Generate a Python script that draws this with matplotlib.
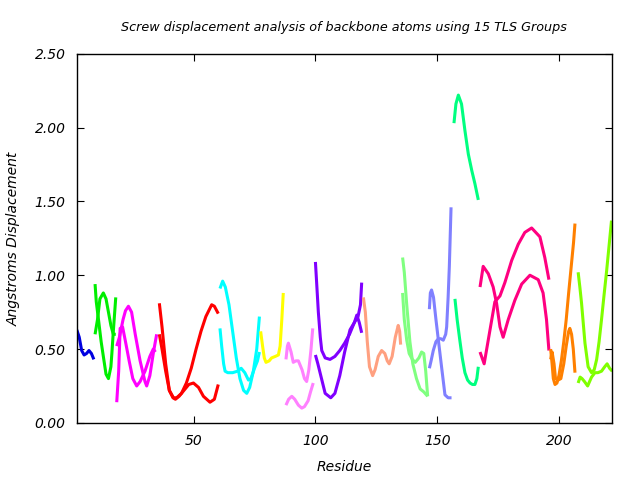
import matplotlib
matplotlib.use("Agg")
import matplotlib.pyplot as plt

# residue / displacement readings, two curves per TLS group where visible
g1_x = [2, 3, 4, 5, 6, 7, 8, 9]
g1_a = [0.63, 0.58, 0.49, 0.46, 0.47, 0.49, 0.47, 0.43]

g2_xa = [9.5, 10, 10.9, 12, 12.9, 14, 15, 16, 16.4, 17, 18]
g2_a = [0.94, 0.82, 0.70, 0.55, 0.45, 0.33, 0.30, 0.38, 0.47, 0.62, 0.85]
g2_xb = [9.5, 10.5, 11.5, 12.9, 14, 15, 16, 17, 18]
g2_b = [0.60, 0.70, 0.84, 0.88, 0.84, 0.75, 0.66, 0.60, 0.60]

g3_xa = [18.4, 19.2, 19.8, 20.8, 22, 23.5, 25, 26.6, 28, 30, 32, 33.4, 34.3]
g3_a = [0.14, 0.35, 0.64, 0.65, 0.55, 0.42, 0.30, 0.25, 0.28, 0.35, 0.45, 0.50, 0.48]
g3_xb = [18.4, 19.5, 21, 22, 23.2, 24.5, 26, 28, 30, 30.7, 32, 33.5, 34.8]
g3_b = [0.52, 0.58, 0.70, 0.76, 0.79, 0.75, 0.60, 0.42, 0.28, 0.25, 0.32, 0.48, 0.60]

g4_xa = [35.9, 37, 38.5, 40, 41.7, 43, 45, 47, 49, 51, 53, 55, 57.4, 58.5, 60.1]
g4_a = [0.81, 0.65, 0.40, 0.22, 0.17, 0.17, 0.20, 0.27, 0.37, 0.50, 0.62, 0.72, 0.80, 0.79, 0.74]
g4_xb = [35.9, 37, 38.5, 40, 41.5, 42.5, 44, 46, 48, 49.9, 52, 54, 56.7, 58.5, 60.1]
g4_b = [0.60, 0.50, 0.35, 0.22, 0.17, 0.16, 0.18, 0.22, 0.26, 0.27, 0.24, 0.18, 0.14, 0.16, 0.26]

g5_xa = [60.8, 61.9, 63, 64.5, 66, 67.5, 69, 70.5, 71.8, 73, 74.5, 75.9, 77]
g5_a = [0.91, 0.96, 0.92, 0.80, 0.62, 0.44, 0.30, 0.22, 0.20, 0.24, 0.35, 0.50, 0.72]
g5_xb = [60.8, 61.5, 62.3, 62.9, 64, 66, 68, 69.5, 71, 72.5, 73.5, 75, 76.2, 77]
g5_b = [0.64, 0.52, 0.40, 0.35, 0.34, 0.34, 0.35, 0.37, 0.34, 0.29, 0.30, 0.37, 0.42, 0.48]

g6_x = [77.5, 78.3, 79, 79.7, 81, 82, 83.5, 84.8, 85.5, 86.2, 86.8]
g6_a = [0.62, 0.52, 0.44, 0.41, 0.42, 0.44, 0.45, 0.46, 0.52, 0.70, 0.88]

g7_xa = [87.9, 88.5, 88.9, 90, 90.9, 92, 93, 94.5, 95.5, 96.4, 97.3, 98.2, 98.9]
g7_a = [0.43, 0.52, 0.54, 0.48, 0.41, 0.42, 0.42, 0.36, 0.30, 0.28, 0.36, 0.50, 0.64]
g7_xb = [87.9, 89, 90.3, 91.5, 93, 94.4, 95.5, 97, 98, 99.1]
g7_b = [0.12, 0.16, 0.18, 0.16, 0.12, 0.10, 0.11, 0.15, 0.21, 0.27]

g8_xa = [100, 100.5, 101.2, 102, 102.6, 104, 106, 108, 110, 112, 114, 116, 117, 118, 119]
g8_a = [1.09, 0.95, 0.75, 0.58, 0.49, 0.44, 0.43, 0.45, 0.49, 0.54, 0.60, 0.68, 0.73, 0.68, 0.61]
g8_xb = [100, 101, 102.5, 104, 106.3, 108, 110, 112, 114.2, 116, 117.5, 118.5, 119]
g8_b = [0.46, 0.40, 0.30, 0.20, 0.17, 0.20, 0.32, 0.48, 0.63, 0.68, 0.72, 0.80, 0.95]

g9_x = [119.7, 120.5, 121.3, 122.2, 123.5, 124.5, 125.8, 127.2, 128.5, 129.5, 130.3,
        131.5, 132.8, 134, 134.6, 135]
g9_a = [0.85, 0.75, 0.55, 0.38, 0.32, 0.36, 0.45, 0.49, 0.47, 0.42, 0.40,
        0.45, 0.58, 0.66, 0.62, 0.53]

g10_xa = [135.8, 136.5, 137.5, 138.8, 140, 141.5, 143, 144.5, 146.1]
g10_a = [1.12, 1.02, 0.80, 0.55, 0.40, 0.30, 0.23, 0.21, 0.18]
g10_xb = [135.8, 136.5, 137.5, 138.5, 139.8, 141, 142.5, 143.6, 144.5, 145.3, 146.1]
g10_b = [0.88, 0.70, 0.56, 0.47, 0.43, 0.41, 0.44, 0.48, 0.47, 0.35, 0.18]

g11_xa = [146.8, 147.2, 147.7, 148.5, 149.5, 150.5, 151.8, 153.2, 154.5, 155.9]
g11_a = [0.77, 0.88, 0.90, 0.85, 0.70, 0.56, 0.38, 0.19, 0.17, 0.17]
g11_xb = [146.8, 147.5, 148.4, 149.5, 150.5, 151.5, 152.5, 153.5, 153.9, 154.5, 155, 155.7]
g11_b = [0.37, 0.42, 0.49, 0.55, 0.57, 0.57, 0.56, 0.60, 0.65, 0.85, 1.06, 1.46]

g12_xa = [156.9, 157.7, 158.7, 160.0, 161.4, 162.8, 164.2, 165.5, 166.9]
g12_a = [2.03, 2.16, 2.22, 2.16, 1.98, 1.82, 1.71, 1.62, 1.51]
g12_xb = [157.3, 158.2, 159.3, 160.3, 161.4, 162.5, 163.5, 164.5, 165.5, 166.3, 166.9]
g12_b = [0.84, 0.70, 0.56, 0.44, 0.34, 0.29, 0.27, 0.26, 0.26, 0.30, 0.38]

g13_xa = [167.6, 168.9, 171, 173, 174.4, 175.8, 177.1, 179.2, 181.9, 184.7, 188.1,
          191.5, 193.5, 194.9, 195.9]
g13_a = [0.92, 1.06, 1.01, 0.92, 0.81, 0.65, 0.58, 0.70, 0.83, 0.94, 1.00,
         0.97, 0.88, 0.70, 0.49]
g13_xb = [167.6, 169.3, 171.7, 173.7, 175.8, 177.8, 180.6, 183.3, 186, 188.8,
          192.2, 194.2, 195.9]
g13_b = [0.48, 0.40, 0.63, 0.82, 0.86, 0.95, 1.10, 1.21, 1.29, 1.32,
         1.26, 1.12, 0.97]

g14_xa = [196.6, 197.2, 197.7, 198.4, 199.2, 200, 201, 202, 203, 204, 205, 206, 206.6]
g14_a = [0.50, 0.40, 0.30, 0.26, 0.27, 0.32, 0.42, 0.55, 0.70, 0.88, 1.05, 1.22, 1.35]
g14_xb = [196.6, 197.2, 198, 198.6, 199.7, 200.8, 202, 203, 204, 204.5, 205.2, 205.9, 206.6]
g14_b = [0.43, 0.48, 0.40, 0.30, 0.29, 0.30, 0.40, 0.52, 0.62, 0.64, 0.60, 0.50, 0.34]

g15_xa = [207.9, 208.6, 209.3, 210.7, 212, 213.4, 214.5, 215.5, 216.5, 217.5, 218.5,
          219.6, 220.6, 221.6]
g15_a = [1.02, 0.92, 0.81, 0.54, 0.38, 0.34, 0.36, 0.43, 0.55, 0.70, 0.86,
         1.03, 1.20, 1.37]
g15_xb = [207.9, 208.7, 209.5, 210.5, 211.8, 213.4, 214.8, 216, 217.5, 218.8, 219.8,
          220.8, 221.9]
g15_b = [0.27, 0.31, 0.30, 0.28, 0.25, 0.31, 0.34, 0.34, 0.35, 0.38, 0.40, 0.37, 0.35]

curves = [
    (g1_x, g1_a, "#0000e0"),
    (g2_xa, g2_a, "#00ee00"), (g2_xb, g2_b, "#00ee00"),
    (g3_xa, g3_a, "#ff00ff"), (g3_xb, g3_b, "#ff00ff"),
    (g4_xa, g4_a, "#ff0000"), (g4_xb, g4_b, "#ff0000"),
    (g5_xa, g5_a, "#00ffff"), (g5_xb, g5_b, "#00ffff"),
    (g6_x, g6_a, "#ffff00"),
    (g7_xa, g7_a, "#ff80ff"), (g7_xb, g7_b, "#ff80ff"),
    (g8_xa, g8_a, "#8000ff"), (g8_xb, g8_b, "#8000ff"),
    (g9_x, g9_a, "#ffa080"),
    (g10_xa, g10_a, "#80ff80"), (g10_xb, g10_b, "#80ff80"),
    (g11_xa, g11_a, "#8080ff"), (g11_xb, g11_b, "#8080ff"),
    (g12_xa, g12_a, "#00ff80"), (g12_xb, g12_b, "#00ff80"),
    (g13_xa, g13_a, "#ff0080"), (g13_xb, g13_b, "#ff0080"),
    (g14_xa, g14_a, "#ff8000"), (g14_xb, g14_b, "#ff8000"),
    (g15_xa, g15_a, "#80ff00"), (g15_xb, g15_b, "#80ff00"),
]

fig = plt.figure(figsize=(6.4, 4.8), dpi=100)
ax = fig.add_axes([0.12, 0.119, 0.837, 0.769])

for xs, ys, c in curves:
    ax.plot(xs, ys, color=c, lw=2.2, solid_capstyle="butt")

ax.set_xlim(2, 222)
ax.set_ylim(0, 2.5)
ax.set_xticks([50, 100, 150, 200])
ax.set_yticks([0, 0.5, 1.0, 1.5, 2.0, 2.5])
ax.set_yticklabels(["%.2f" % v for v in [0, 0.5, 1.0, 1.5, 2.0, 2.5]])
ax.tick_params(direction="in", length=5, width=0.8, top=True, right=True,
               labelsize=10, pad=8)
for lab in ax.get_xticklabels() + ax.get_yticklabels():
    lab.set_fontstyle("italic")
for s in ax.spines.values():
    s.set_linewidth(1.0)

fig.text(0.537, 1 - 27 / 480, "Screw displacement analysis of backbone atoms using 15 TLS Groups",
         ha="center", va="center", fontsize=9.2, style="italic")
ax.set_xlabel("Residue", fontsize=10, style="italic", labelpad=9)
ax.set_ylabel("Angstroms Displacement", fontsize=10, style="italic", labelpad=10)

fig.savefig("out.png", dpi=100)
